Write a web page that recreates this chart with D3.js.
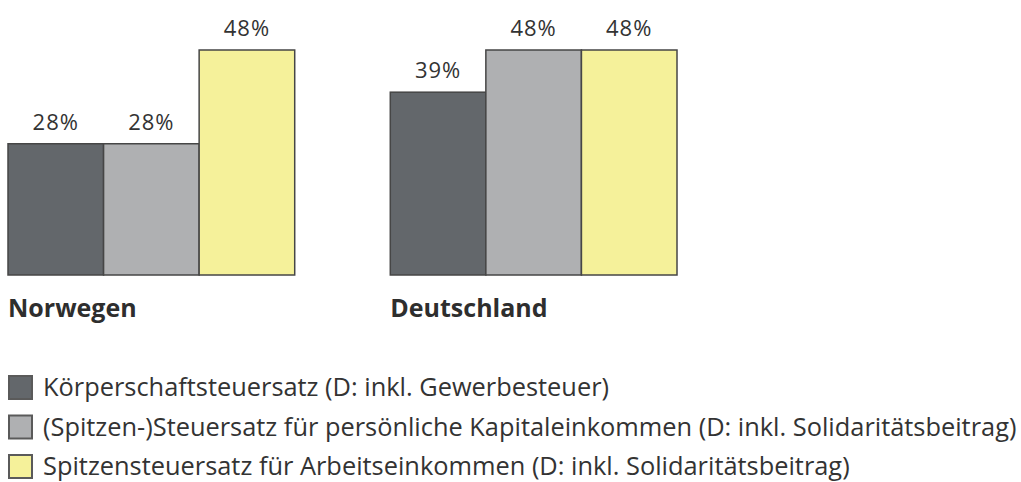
<!DOCTYPE html>
<html>
<head>
<meta charset="utf-8">
<script src="https://cdn.jsdelivr.net/npm/d3@7"></script>
<style>
  html, body { margin: 0; padding: 0; background: #fff; }
  svg { display: block; font-family: "Open Sans", "Noto Sans", sans-serif; }
</style>
</head>
<body>
<svg id="chart" width="1021" height="482"></svg>
<script>
const countries = ["Norwegen", "Deutschland"];
const seriesNames = [
  "Körperschaftsteuersatz (D: inkl. Gewerbesteuer)",
  "(Spitzen-)Steuersatz für persönliche Kapitaleinkommen (D: inkl. Solidaritätsbeitrag)",
  "Spitzensteuersatz für Arbeitseinkommen (D: inkl. Solidaritätsbeitrag)"
];
const corporateRate = [28, 39];
const capitalRate = [28, 48];
const laborRate = [48, 48];
const seriesColors = ["#63676b", "#afb0b2", "#f5f19a"];

const seriesValues = [corporateRate, capitalRate, laborRate];
const rows = countries.map((c, ci) => ({
  country: c,
  values: seriesNames.map((s, si) => ({ series: s, idx: si, value: seriesValues[si][ci] }))
}));

const svg = d3.select("#chart");

const x0 = d3.scaleBand().domain(countries).range([8, 677]).paddingInner(0.25).paddingOuter(0);
const x1 = d3.scaleBand().domain(seriesNames).range([0, x0.bandwidth()]).padding(0);
const y = d3.scaleLinear().domain([0, 48]).range([275, 50]);
const color = d3.scaleOrdinal().domain(seriesNames).range(seriesColors);

const groups = svg.selectAll("g.grp").data(rows).join("g")
  .attr("class", "grp")
  .attr("transform", d => `translate(${x0(d.country)},0)`);

groups.selectAll("rect").data(d => d.values).join("rect")
  .attr("x", d => x1(d.series))
  .attr("y", d => y(d.value))
  .attr("width", x1.bandwidth())
  .attr("height", d => y(0) - y(d.value))
  .attr("fill", d => color(d.series))
  .attr("stroke", "#464646")
  .attr("stroke-width", 1.5);

groups.selectAll("text.val").data(d => d.values).join("text")
  .attr("class", "val")
  .attr("x", d => x1(d.series) + x1.bandwidth() / 2)
  .attr("y", d => y(d.value) - 14)
  .attr("text-anchor", "middle")
  .attr("font-size", 22)
  .attr("letter-spacing", 1)
  .attr("fill", "#333")
  .text(d => d.value + "%");

groups.append("text")
  .attr("x", 0)
  .attr("y", 317)
  .attr("font-size", 25)
  .attr("font-weight", "bold")
  .attr("fill", "#2e2e2e")
  .text(d => d.country);

const legend = svg.append("g").attr("transform", "translate(8,375)");
const items = legend.selectAll("g").data(seriesNames).join("g")
  .attr("transform", (d, i) => `translate(0,${i * 39.5})`);
items.append("rect")
  .attr("x", 1).attr("y", 1)
  .attr("width", 23).attr("height", 23)
  .attr("fill", d => color(d))
  .attr("stroke", "#5a5a5a")
  .attr("stroke-width", 2);
const legendTexts = items.append("text")
  .attr("x", 35)
  .attr("y", 21)
  .attr("font-size", 20)
  .attr("fill", "#333")
  .text(d => d);
// fit the longest legend line to the reference width (ends near x=1019)
const longest = d3.max(legendTexts.nodes(), n => n.getComputedTextLength());
const fs = 20 * 974 / longest;
legendTexts.attr("font-size", fs);
</script>
</body>
</html>
